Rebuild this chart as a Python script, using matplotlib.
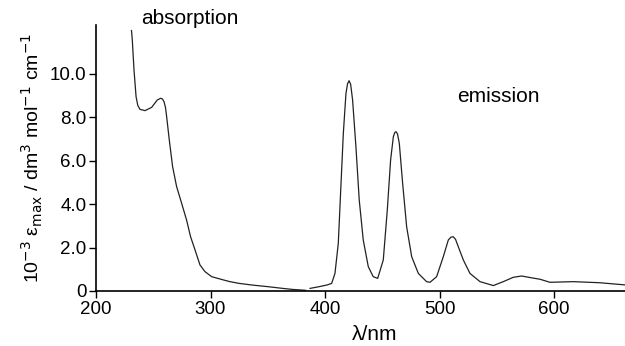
import matplotlib
matplotlib.use("Agg")
from matplotlib import pyplot as plt
import numpy as np

# absorption spectrum
abs_x = [231, 231.7, 233.2, 235, 236.5, 238.4, 242.8, 248.6, 253.5, 256.4, 258,
         259.4, 260.7, 261.7, 264, 266.9, 270.4, 274.8, 279.1, 282.6, 286.5, 290.8,
         295.2, 301, 311.2, 317, 325, 337, 350, 363, 372, 378, 383]
abs_y = [12.0, 11.57, 10.18, 8.95, 8.55, 8.37, 8.31, 8.46, 8.8, 8.88, 8.85,
         8.72, 8.45, 8.03, 6.96, 5.73, 4.81, 4.04, 3.27, 2.5, 1.89, 1.2,
         0.89, 0.66, 0.51, 0.43, 0.35, 0.27, 0.2, 0.12, 0.07, 0.05, 0.03]

# emission spectrum
em_x = [387, 395, 402, 405.8, 408.7, 411.6, 413.6, 416, 418.3, 419.7, 421, 422.4,
        424.1, 427, 429.9, 433.4, 437.8, 442.1, 446, 450.9, 454.4, 457.3, 459.7,
        460.9, 462, 463.3, 464.9, 467.8, 471.3, 475.7, 481.5, 488.7, 491.7, 497.5,
        503.3, 507.7, 510, 512, 514, 516.4, 520.8, 526.6, 535.4, 547, 555.7, 564.4,
        571.7, 579, 587.8, 596.5, 616.9, 640, 662]
em_y = [0.12, 0.2, 0.28, 0.35, 0.81, 2.19, 4.5, 7.26, 9.1, 9.55, 9.69, 9.52,
        8.8, 6.65, 4.19, 2.35, 1.12, 0.66, 0.58, 1.43, 3.73, 6.04, 7.11,
        7.3, 7.34, 7.24, 6.8, 4.96, 2.96, 1.58, 0.81, 0.43, 0.4, 0.66,
        1.58, 2.35, 2.48, 2.5, 2.38, 2.04, 1.43, 0.81, 0.43, 0.25, 0.43, 0.63,
        0.69, 0.62, 0.54, 0.4, 0.43, 0.38, 0.28]

x_ticks = [200, 300, 400, 500, 600]
y_ticks = [0, 2, 4, 6, 8, 10]
y_labels = ["0", "2.0", "4.0", "6.0", "8.0", "10.0"]

plt.rcParams['font.family'] = ['Liberation Sans', 'DejaVu Sans']

fig = plt.figure(figsize=(6.25, 3.46), dpi=100)
ax = fig.add_axes([0.1536, 0.159, 0.8464, 0.769])

ax.plot(abs_x, abs_y, color='#222222', lw=0.9)
ax.plot(em_x, em_y, color='#222222', lw=0.9)

ax.set_xlim(200, 662)
ax.set_ylim(0, 12.26)
ax.set_xticks(x_ticks)
ax.set_yticks(y_ticks)
ax.set_yticklabels(y_labels)
ax.tick_params(labelsize=13.5, length=5, width=1, color='black', pad=2)
ax.spines['top'].set_visible(False)
ax.spines['right'].set_visible(False)
ax.spines['left'].set_linewidth(1.2)
ax.spines['bottom'].set_linewidth(1.2)

ax.set_ylabel(r'10$^{-3}$ ε$_{\rm max}$ / dm$^3$ mol$^{-1}$ cm$^{-1}$', fontsize=14, labelpad=3)
fig.text(375 / 625, 1 - 334 / 346, 'λ/nm', fontsize=15, ha='center', va='center')

fig.text(190 / 625, 1 - 18 / 346, 'absorption', fontsize=15, ha='center', va='center')
fig.text(498 / 625, 1 - 97 / 346, 'emission', fontsize=15, ha='center', va='center')

fig.savefig('out.png', dpi=100)
